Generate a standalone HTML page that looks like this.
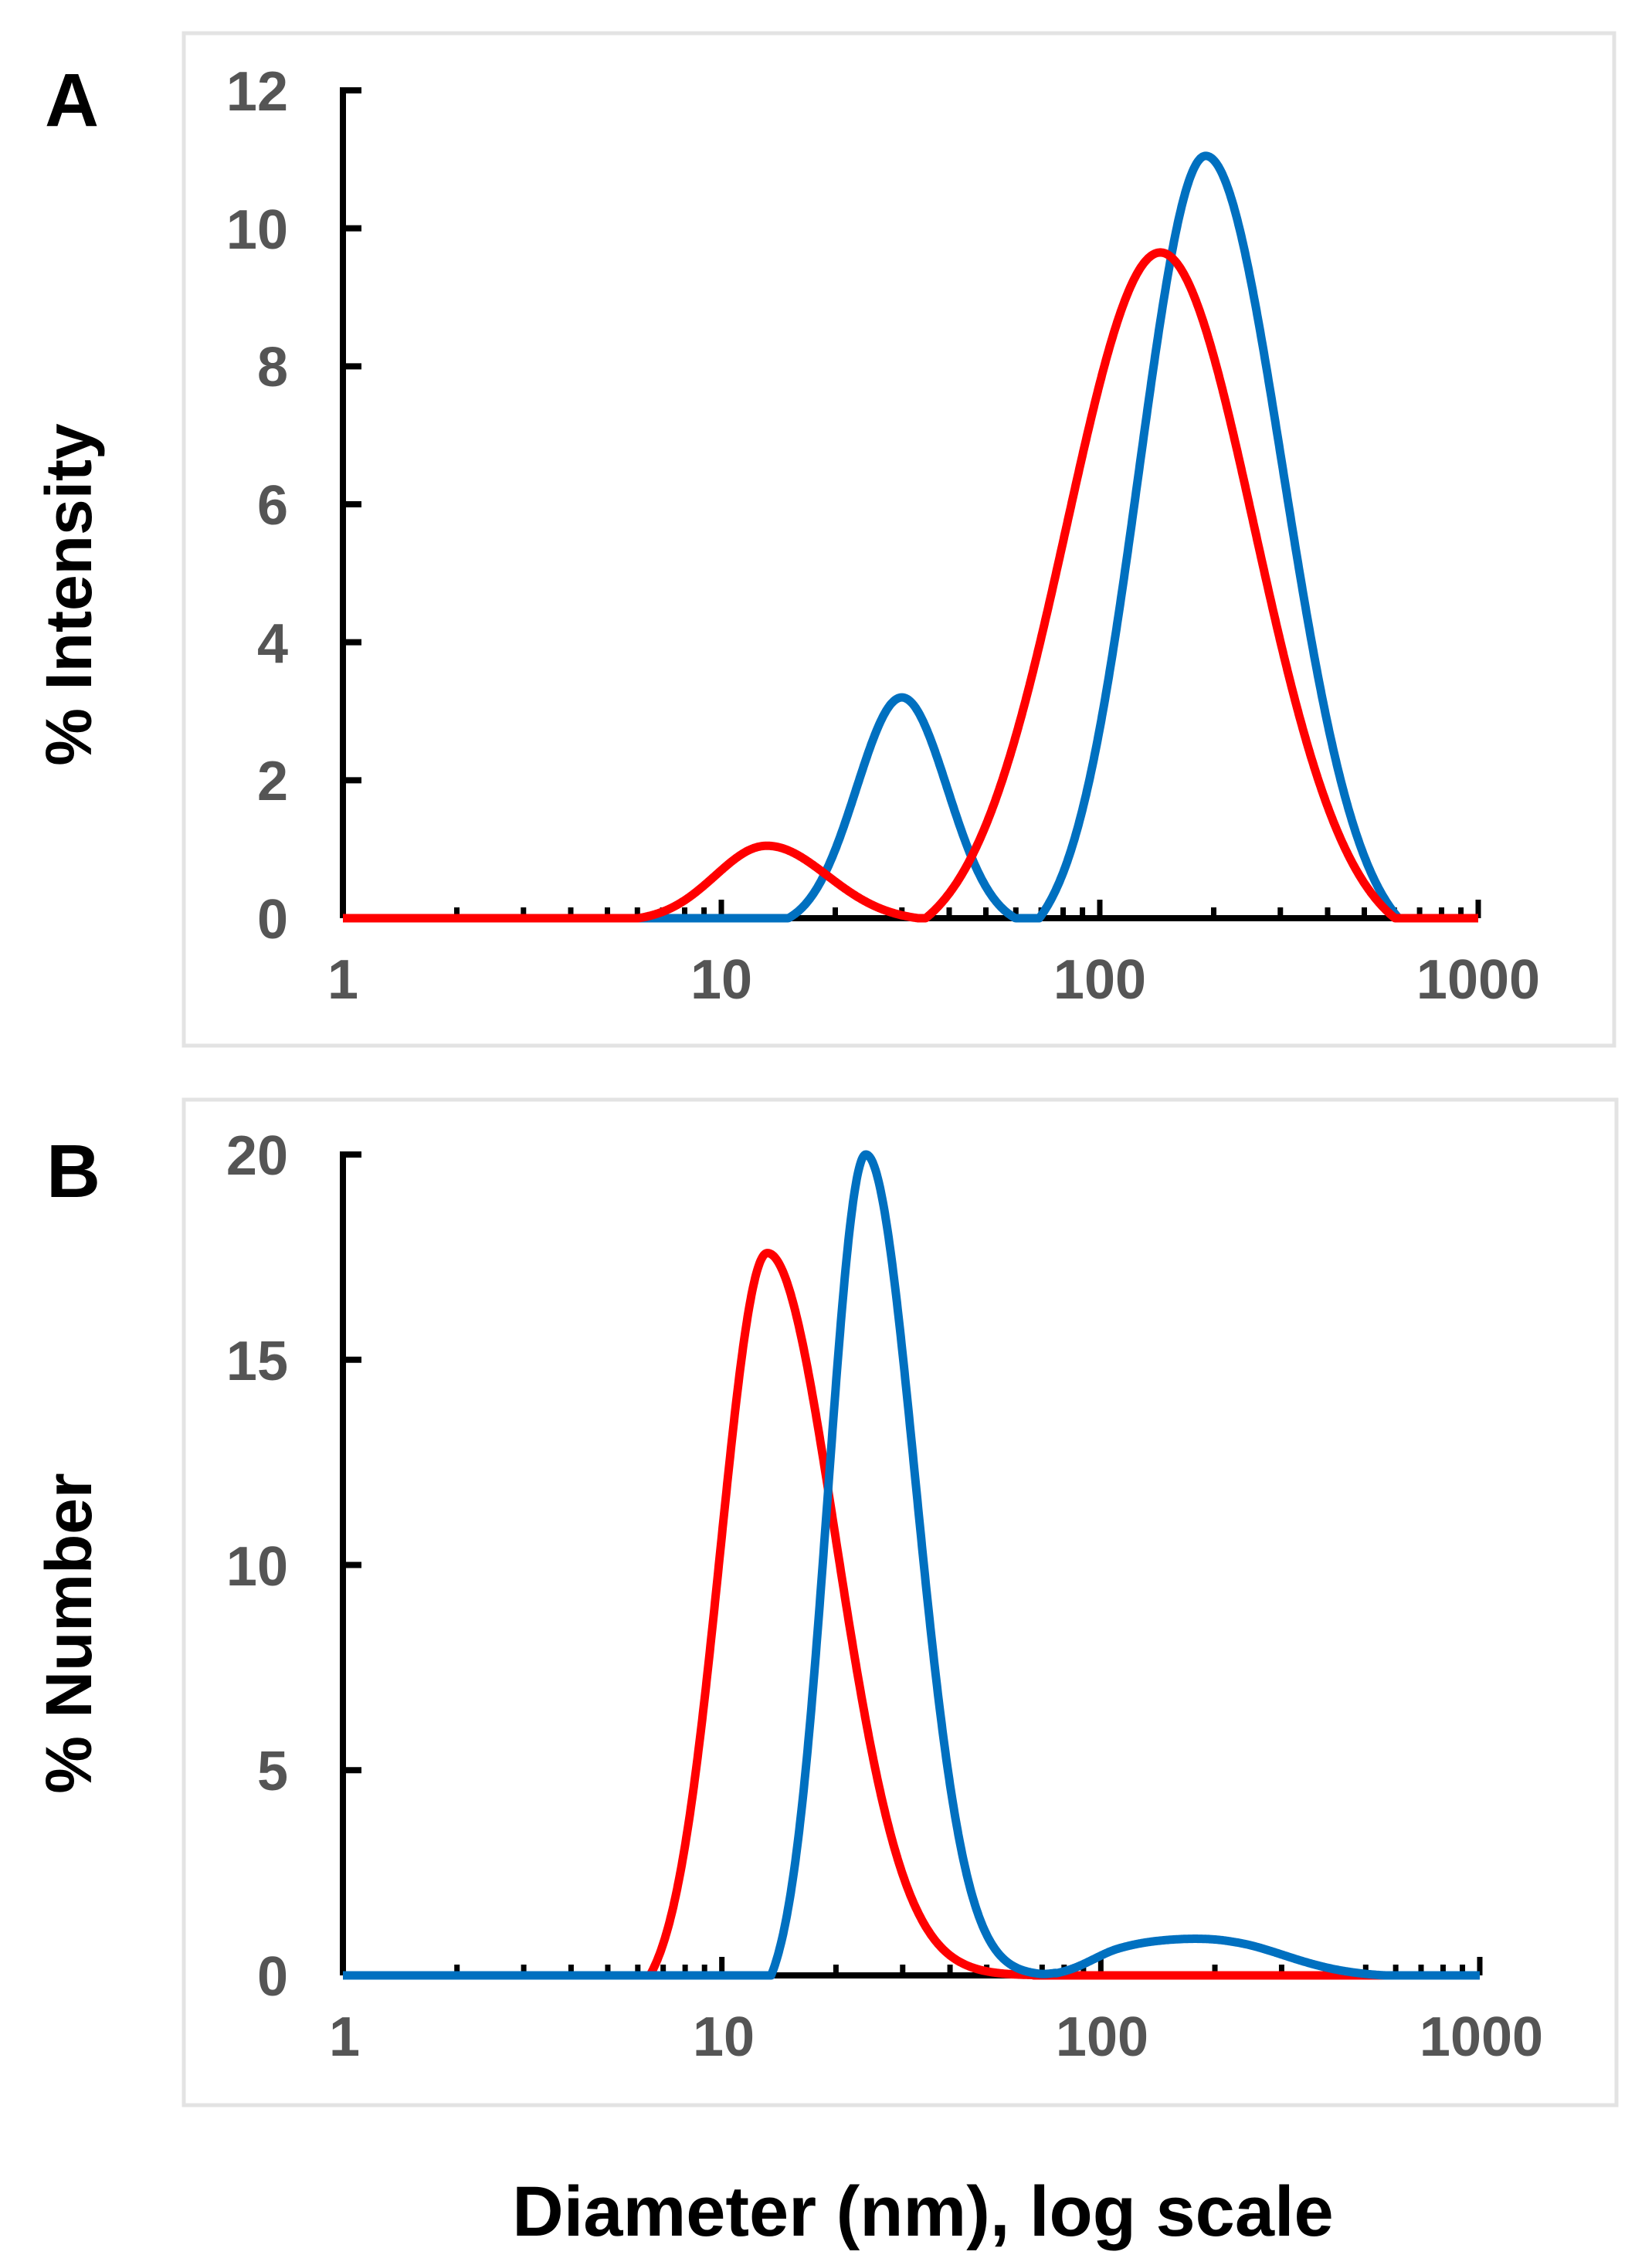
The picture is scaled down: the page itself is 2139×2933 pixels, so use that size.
<!DOCTYPE html>
<html><head><meta charset="utf-8"><style>
html,body{margin:0;padding:0;background:#fff;}
svg{display:block;}
text{font-family:"Liberation Sans",Arial,sans-serif;font-weight:bold;}
</style></head><body>
<svg id="s" width="2139" height="2933" xmlns="http://www.w3.org/2000/svg">
<rect width="2139" height="2933" fill="#fff"/>
<rect x="238" y="43" width="1852" height="1311" fill="none" stroke="#e3e3e3" stroke-width="5"/>
<rect x="238" y="1424" width="1855" height="1302" fill="none" stroke="#e3e3e3" stroke-width="5"/>
<text x="58" y="163" font-size="97" fill="#000">A</text>
<text x="60" y="1550" font-size="97" fill="#000">B</text>
<text transform="translate(118,770) rotate(-90)" font-size="84" text-anchor="middle" fill="#000">% Intensity</text>
<text transform="translate(118,2115) rotate(-90)" font-size="84" text-anchor="middle" fill="#000">% Number</text>
<text x="1195" y="2895" font-size="92" text-anchor="middle" fill="#000">Diameter (nm), log scale</text>
<g font-size="72" fill="#555" text-anchor="end">
<text x="373" y="143">12</text><text x="373" y="322">10</text><text x="373" y="500">8</text>
<text x="373" y="679">6</text><text x="373" y="858">4</text><text x="373" y="1036">2</text><text x="373" y="1215">0</text>
<text x="373" y="1521">20</text><text x="373" y="1787">15</text><text x="373" y="2053">10</text>
<text x="373" y="2318">5</text><text x="373" y="2584">0</text>
</g>
<g font-size="72" fill="#555" text-anchor="middle">
<text x="444" y="1293">1</text><text x="934" y="1293">10</text><text x="1424" y="1293">100</text><text x="1914" y="1293">1000</text>
<text x="446" y="2662">1</text><text x="937" y="2662">10</text><text x="1427" y="2662">100</text><text x="1918" y="2662">1000</text>
</g>
<g id="g"></g>
</svg>
<script>
var NS="http://www.w3.org/2000/svg",G=document.getElementById("g");
function el(n,a){var e=document.createElementNS(NS,n);for(var k in a)e.setAttribute(k,a[k]);G.appendChild(e);return e;}
function sh(u,c,h,wl,wr){var d=u-c,w=d<0?wl:wr;if(Math.abs(d)>=w)return 0;var t=d/w*2.5,g=Math.exp(-t*t/2),e0=Math.exp(-3.125);return h*(g-e0)/(1-e0);}
function ga(u,c,h,s,cut){var d=u-c;if(d>cut)return 0;return h*Math.exp(-d*d/(2*s*s));}
function axes(x0,x1,y0,ytop,ymax,step){
 el("line",{x1:x0,y1:y0,x2:x1,y2:y0,stroke:"#000","stroke-width":8});
 el("line",{x1:x0,y1:y0,x2:x0,y2:ytop-4,stroke:"#000","stroke-width":8});
 var sc=(y0-ytop)/ymax;
 for(var v=0;v<=ymax;v+=step){var y=y0-v*sc;el("line",{x1:x0,y1:y,x2:x0+24,y2:y,stroke:"#000","stroke-width":8});}
 var dec=(x1-x0)/3;
 for(var k=0;k<3;k++)for(var m=2;m<=10;m++){var x=x0+dec*(k+Math.log10(m));el("line",{x1:x,y1:y0,x2:x,y2:y0-(m==10?24:14),stroke:"#000","stroke-width":7});}
}
function curve(x0,x1,y0,sc,f,col){
 var dec=(x1-x0)/3,p="";
 for(var i=0;i<=1500;i++){var u=i*3/1500,x=x0+u*dec,y=y0-f(u)*sc;p+=(i?"L":"M")+x.toFixed(1)+","+y.toFixed(1);}
 el("path",{d:p,fill:"none",stroke:col,"stroke-width":11,"stroke-linejoin":"round"});
}
axes(444,1914,1189,117,12,2);
var sA=(1189-117)/12;
curve(444,1914,1189,sA,function(u){return sh(u,1.477,3.2,0.3,0.3)+sh(u,2.28,11.05,0.44,0.51);},"#0070C0");
curve(444,1914,1189,sA,function(u){return sh(u,1.12,1.05,0.34,0.40)+sh(u,2.16,9.65,0.62,0.62);},"#FF0000");
axes(444,1916,2558,1495,20,5);
var sB=(2558-1495)/20;
curve(444,1916,2558,sB,function(u){return u<1.12?sh(u,1.12,17.6,0.31,1):ga(u,1.12,17.6,0.18,0.7);},"#FF0000");
curve(444,1916,2558,sB,function(u){return (u<1.38?sh(u,1.38,20,0.25,1):ga(u,1.38,20,0.13,0.5))+sh(u,2.3,0.85,0.46,0.45)+sh(u,2.05,0.35,0.2,0.3);},"#0070C0");
</script>
</body></html>
